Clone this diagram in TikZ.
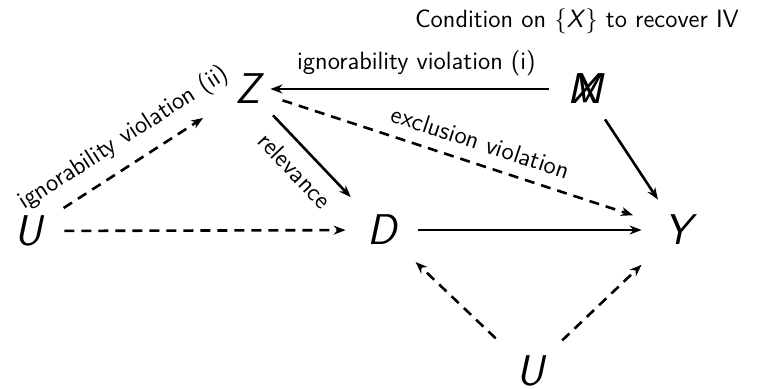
\documentclass[tikz,border=0pt]{standalone}
\usepackage{tikz}
\usetikzlibrary{arrows.meta}

\begin{document}
\begin{tikzpicture}[x=0.5pt, y=0.5pt,
  var/.style={circle, minimum size=36pt, inner sep=0pt,
    font=\fontsize{21.5}{26}\selectfont\sffamily\itshape},
  arr/.style={-{Stealth[length=6pt, width=4.5pt]}, line width=1.3pt},
  dasharr/.style={arr, dash pattern=on 5pt off 3.5pt},
  lab/.style={font=\fontsize{12.5}{15}\selectfont\sffamily, inner sep=2.5pt},
  edgelab/.style={lab, inner sep=6pt}]
\useasboundingbox (0,0) rectangle (759,-388);
% variables
\node[var] (nZ) at (248,-89) {Z};
\node[var] (nX) at (585,-89) {X};
\node[var] (nM) at (585,-89) {M};
\node[var] (nUl) at (28,-231) {U};
\node[var] (nD) at (382,-230) {D};
\node[var] (nY) at (678,-230) {Y};
\node[var] (nUb) at (530,-371) {U};
\node[lab] (cond) at (577,-21) {Condition on \{\textit{X}\} to recover IV};
% edges
\draw[arr, shorten >=-7pt] (nX) -- (nZ)
  node[midway, above, edgelab] {ignorability violation (i)};
\draw[arr, shorten >=4.5pt] (nZ) -- (nD)
  node[pos=0.45, below, sloped, edgelab] {relevance};
\draw[dasharr, shorten >=5.5pt] (nZ) -- (nY)
  node[pos=0.53, above, sloped, edgelab] {exclusion violation};
\draw[dasharr, shorten <=3pt, shorten >=8.5pt] (nUl) -- (nZ)
  node[midway, above, sloped, edgelab] {ignorability violation (ii)};
\draw[dasharr] (nUl) -- (nD);
\draw[arr] (nD) -- (nY);
\draw[arr] (nX) -- (nY);
\draw[dasharr, shorten <=5.5pt, shorten >=5pt] (nUb) -- (nD);
\draw[dasharr, shorten <=4pt, shorten >=7pt] (nUb) -- (nY);
\end{tikzpicture}
\end{document}
